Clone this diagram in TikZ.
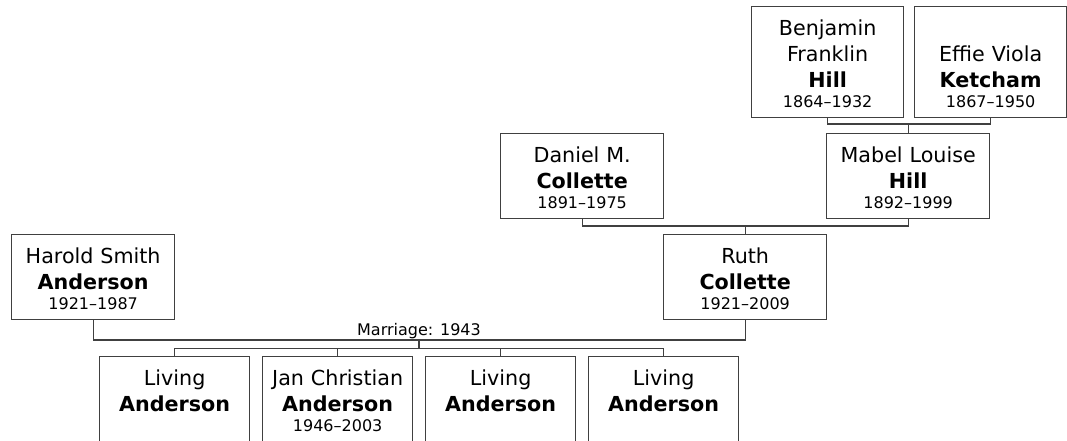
\documentclass[tikz,border=0pt]{standalone}
\usepackage{fontspec}
\setmainfont{DejaVu Sans}
\usepackage{tikz}

\tikzset{
    person/.style={draw=black!75, line width=1pt, anchor=north west, inner sep=0pt,
        align=center, text width=122.25pt, text height=21.75pt, text depth=42pt,
        font=\fontsize{15.5}{19.5}\selectfont},
    tallbox/.style={text width=114pt, text depth=61.5pt},
    shortname/.style={text height=41.25pt, text depth=42pt},
    kidbox/.style={text width=112.5pt, text depth=90pt},
    link/.style={draw=black!75, line width=1pt},
}
\newcommand{\lifespan}[1]{\\[-4.5pt]{\fontsize{12}{15}\selectfont #1}}

\begin{document}
\begin{tikzpicture}[x=0.75pt, y=-0.75pt]
        \useasboundingbox (0, 0) rectangle (1067, 441);
        \clip (0, 0) rectangle (1067, 441);

        % grandparents
        \node[person, tallbox] (benjamin) at (751, 6) {Benjamin\\Franklin\\\textbf{Hill}\lifespan{1864–1932}};
        \node[person, tallbox, shortname] (effie) at (914, 6) {Effie Viola\\\textbf{Ketcham}\lifespan{1867–1950}};
        \node[person] (daniel) at (500, 133) {Daniel M.\\\textbf{Collette}\lifespan{1891–1975}};
        \node[person] (mabel) at (826, 133) {Mabel Louise\\\textbf{Hill}\lifespan{1892–1999}};

        % parents
        \node[person] (harold) at (11, 234) {Harold Smith\\\textbf{Anderson}\lifespan{1921–1987}};
        \node[person] (ruth) at (663, 234) {Ruth\\\textbf{Collette}\lifespan{1921–2009}};

        % children
        \node[person, kidbox] (kid1) at (99, 356) {Living\\\textbf{Anderson}};
        \node[person, kidbox] (kid2) at (262, 356) {Jan Christian\\\textbf{Anderson}\lifespan{1946–2003}};
        \node[person, kidbox] (kid3) at (425, 356) {Living\\\textbf{Anderson}};
        \node[person, kidbox] (kid4) at (588, 356) {Living\\\textbf{Anderson}};

        % family lines
        \coordinate (hillbar) at (mabel.north |- 0, 124);
        \draw[link] (benjamin.south) |- (hillbar) -| (effie.south);
        \draw[link] (hillbar) -- (mabel.north);

        \coordinate (collettebar) at (ruth.north |- 0, 226);
        \draw[link] (daniel.south) |- (collettebar) -| (mabel.south);
        \draw[link] (collettebar) -- (ruth.north);

        \coordinate (wedding) at (419, 340);
        \coordinate (kidbar) at (419, 348.5);
        \draw[link] (harold.south) |- (wedding) -| (ruth.south);
        \node[anchor=base, inner sep=0pt, font=\fontsize{12}{15}\selectfont] (marriage) at (419, 336) {Marriage: 1943};
        \draw[link] (wedding) -- (kidbar);
        \draw[link] (kid1.north) |- (kidbar) -| (kid4.north);
        \draw[link] (kid2.north) -- (kid2.north |- kidbar);
        \draw[link] (kid3.north) -- (kid3.north |- kidbar);
    \end{tikzpicture}
\end{document}
